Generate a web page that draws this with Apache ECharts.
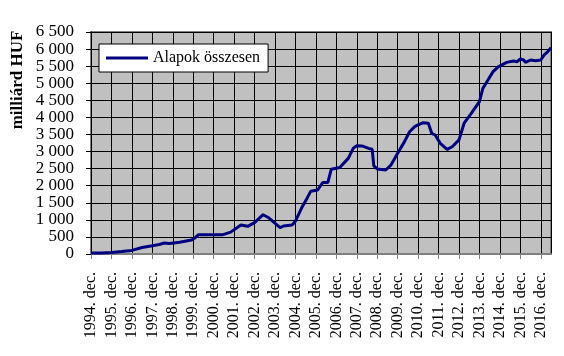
<!DOCTYPE html>
<html>
<head>
<meta charset="utf-8">
<script src="https://cdn.jsdelivr.net/npm/echarts@6/dist/echarts.min.js"></script>
<style>html,body{margin:0;padding:0;background:#fff}#c{width:564px;height:356px}</style>
</head>
<body>
<div id="c"></div>
<script>
// Observation dates (year-month) and values (milliárd HUF)
var dates = ["1994-12","1995-06","1995-12","1996-06","1996-12","1997-06","1997-12","1998-04","1998-07","1998-10",
"1999-04","1999-11","2000-01","2000-03","2001-05","2001-10","2002-04","2002-08","2002-12","2003-05",
"2003-08","2004-03","2004-05","2004-10","2004-12","2005-04","2005-07","2005-09","2006-01","2006-04",
"2006-07","2006-09","2007-02","2007-07","2007-10","2007-12","2008-03","2008-07","2008-09","2008-10",
"2008-12","2009-05","2009-08","2009-12","2010-04","2010-07","2010-10","2010-12","2011-03","2011-06",
"2011-08","2011-10","2012-01","2012-05","2012-08","2012-12","2013-03","2013-07","2013-12","2014-02",
"2014-05","2014-08","2014-11","2014-12","2015-04","2015-08","2015-10","2015-12","2016-02","2016-03",
"2016-06","2016-09","2016-12","2017-02","2017-04","2017-06"];
var values = [30,30,45,70,105,190,240,280,320,305,
345,410,470,560,560,640,850,810,920,1150,
1070,770,820,850,960,1385,1650,1840,1874,2090,
2090,2480,2530,2800,3100,3170,3165,3090,3070,2580,
2490,2460,2600,2950,3290,3580,3730,3780,3845,3826,
3534,3484,3240,3065,3140,3340,3830,4100,4460,4850,
5095,5340,5480,5530,5610,5650,5630,5710,5680,5610,
5680,5660,5680,5830,5920,6040];
var tickLabels = ["1994. dec.","1995. dec.","1996. dec.","1997. dec.","1998. dec.","1999. dec.","2000. dec.",
"2001. dec.","2002. dec.","2003. dec.","2004. dec.","2005. dec.","2006. dec.","2007. dec.","2008. dec.",
"2009. dec.","2010. dec.","2011. dec.","2012. dec.","2013. dec.","2014. dec.","2015. dec.","2016. dec."];
var seriesName = "Alapok összesen";
var yTitle = "milliárd HUF";

function monthIndex(s){var p=s.split('-');return (parseInt(p[0],10)-1994)*12+(parseInt(p[1],10)-12);}
var pts = dates.map(function(d,i){return [monthIndex(d), values[i]];});

var FONT = "'Liberation Serif','Times New Roman',serif";
var chart = echarts.init(document.getElementById('c'), null, {renderer:'canvas'});
chart.setOption({
  animation:false,
  backgroundColor:'#fff',
  grid:{left:91,right:13,top:32,bottom:102,show:true,backgroundColor:'#c0c0c0',borderColor:'#808080',borderWidth:2},
  xAxis:{type:'value',min:0,max:270,interval:12,
    axisLine:{show:true,lineStyle:{color:'#808080',width:2}},
    axisTick:{show:true,length:5,lineStyle:{color:'#808080',width:1}},
    splitLine:{show:true,lineStyle:{color:'#000',width:1}},
    axisLabel:{rotate:90,margin:18,color:'#000',fontFamily:FONT,fontSize:16,showMaxLabel:false,
      formatter:function(v){var k=v/12;return (k===Math.floor(k)&&tickLabels[k])?tickLabels[k]:'';}}
  },
  yAxis:{type:'value',min:0,max:6500,interval:500,
    axisLine:{show:true,lineStyle:{color:'#000',width:1}},
    axisTick:{show:true,length:5,lineStyle:{color:'#000',width:1}},
    splitLine:{show:true,lineStyle:{color:'#000',width:1}},
    axisLabel:{margin:17,color:'#000',fontFamily:FONT,fontSize:17,
      formatter:function(v){return String(v).replace(/\B(?=(\d{3})+(?!\d))/g,' ');}}
  },
  legend:{show:true,left:99,top:44,orient:'horizontal',backgroundColor:'#fff',borderColor:'#000',borderWidth:1,
    padding:[6,8,6,7],itemWidth:42,itemHeight:3,itemGap:4,icon:'rect',
    textStyle:{fontFamily:FONT,fontSize:16,color:'#000',padding:[0,0,0,0]},data:[seriesName]},
  graphic:[{type:'text',x:18,y:80,rotation:Math.PI/2,
    style:{text:yTitle,fontFamily:FONT,fontSize:17,fontWeight:'bold',fill:'#000',align:'center',verticalAlign:'middle'}}],
  series:[{name:seriesName,type:'line',data:pts,symbol:'none',smooth:false,
    lineStyle:{color:'#000080',width:3},itemStyle:{color:'#000080'}}]
});
</script>
</body>
</html>
